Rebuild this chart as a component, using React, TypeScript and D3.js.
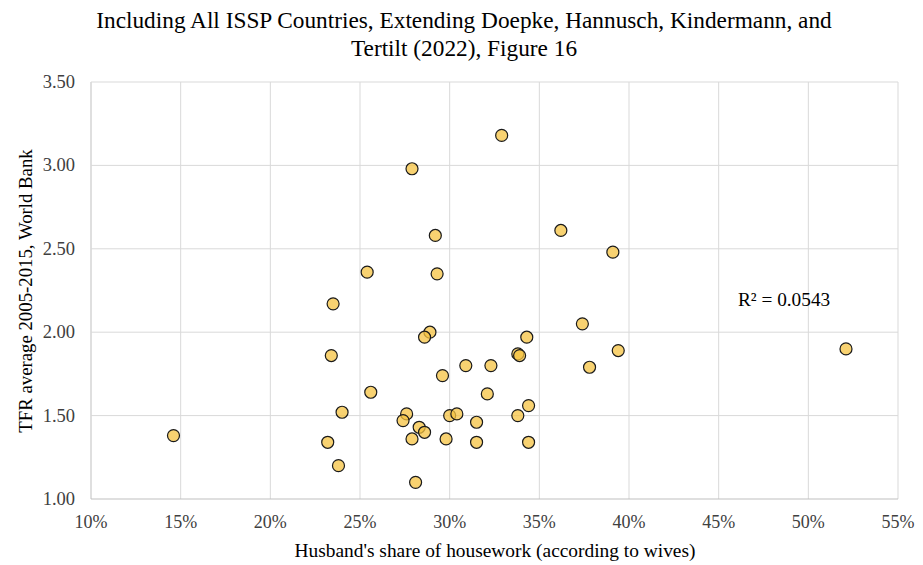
import * as d3 from "d3";
import React from "react";

// husband's share of housework (%), TFR
const shares = [
  14.6, 32.9, 27.9, 36.2, 39.1, 29.2, 25.4, 29.3, 23.5, 37.4, 34.3, 28.9, 28.6,
  23.4, 33.8, 33.9, 32.3, 30.9, 39.4, 37.8, 52.1, 29.6, 25.6, 32.1, 24.0, 27.6,
  27.4, 34.4, 33.8, 30.0, 30.4, 31.5, 28.3, 28.6, 23.2, 27.9, 29.8, 31.5, 34.4,
  23.8, 28.1,
];
const tfr = [
  1.38, 3.18, 2.98, 2.61, 2.48, 2.58, 2.36, 2.35, 2.17, 2.05, 1.97, 2.0, 1.97,
  1.86, 1.87, 1.86, 1.8, 1.8, 1.89, 1.79, 1.9, 1.74, 1.64, 1.63, 1.52, 1.51,
  1.47, 1.56, 1.5, 1.5, 1.51, 1.46, 1.43, 1.4, 1.34, 1.36, 1.36, 1.34, 1.34,
  1.2, 1.1,
];

const xTicks = [10, 15, 20, 25, 30, 35, 40, 45, 50, 55];
const yTicks = [1.0, 1.5, 2.0, 2.5, 3.0, 3.5];

const titleLines = [
  "Including All ISSP Countries, Extending Doepke, Hannusch, Kindermann, and",
  "Tertilt (2022), Figure 16",
];
const xTitle = "Husband's share of housework (according to wives)";
const yTitle = "TFR average 2005-2015, World Bank";
const r2Label = "R² = 0.0543";

const W = 923;
const H = 565;
const margin = { left: 91, right: 25, top: 82, bottom: 66 };
const serif = { fontFamily: "Liberation Serif, DejaVu Serif, serif" };

export default function App() {
  const x = d3
    .scaleLinear()
    .domain([10, 55])
    .range([margin.left, W - margin.right]);
  const y = d3
    .scaleLinear()
    .domain([1, 3.5])
    .range([H - margin.bottom, margin.top]);

  const points = shares.map((s, i) => ({ s, t: tfr[i] }));

  return (
    <svg
      width={W}
      height={H}
      style={{ position: "absolute", left: 0, top: 0, background: "#fff" }}
    >
      {titleLines.map((line, i) => (
        <text
          key={i}
          x={464}
          y={28 + i * 28}
          textAnchor="middle"
          fontSize={23.3}
          fill="#000"
          style={serif}
        >
          {line}
        </text>
      ))}

      {/* gridlines */}
      {xTicks.map((t) => (
        <line
          key={"gx" + t}
          x1={x(t)}
          x2={x(t)}
          y1={y(3.5)}
          y2={y(1)}
          stroke={t === 10 ? "#bfbfbf" : "#d9d9d9"}
          strokeWidth={1}
        />
      ))}
      {yTicks.map((t) => (
        <line
          key={"gy" + t}
          x1={x(10)}
          x2={x(55)}
          y1={y(t)}
          y2={y(t)}
          stroke={t === 1 ? "#bfbfbf" : "#d9d9d9"}
          strokeWidth={1}
        />
      ))}

      {/* tick labels */}
      {yTicks.map((t) => (
        <text
          key={"ty" + t}
          x={75}
          y={y(t) + 6}
          textAnchor="end"
          fontSize={18.5}
          fill="#404040"
          style={serif}
        >
          {d3.format(".2f")(t)}
        </text>
      ))}
      {xTicks.map((t) => (
        <text
          key={"tx" + t}
          x={x(t)}
          y={528}
          textAnchor="middle"
          fontSize={18}
          fill="#404040"
          style={serif}
        >
          {t + "%"}
        </text>
      ))}

      <text
        x={495}
        y={557}
        textAnchor="middle"
        fontSize={19.4}
        fill="#000"
        style={serif}
      >
        {xTitle}
      </text>
      <text
        transform={`translate(32,${291}) rotate(-90)`}
        textAnchor="middle"
        fontSize={18.8}
        fill="#000"
        style={serif}
      >
        {yTitle}
      </text>

      <text x={738} y={306} fontSize={19.3} fill="#000" style={serif}>
        {r2Label}
      </text>

      {points.map((p, i) => (
        <circle
          key={i}
          cx={x(p.s)}
          cy={y(p.t)}
          r={6}
          fill="#f5c342"
          fillOpacity={0.75}
          stroke="#1a1a1a"
          strokeWidth={1.2}
        />
      ))}
    </svg>
  );
}
